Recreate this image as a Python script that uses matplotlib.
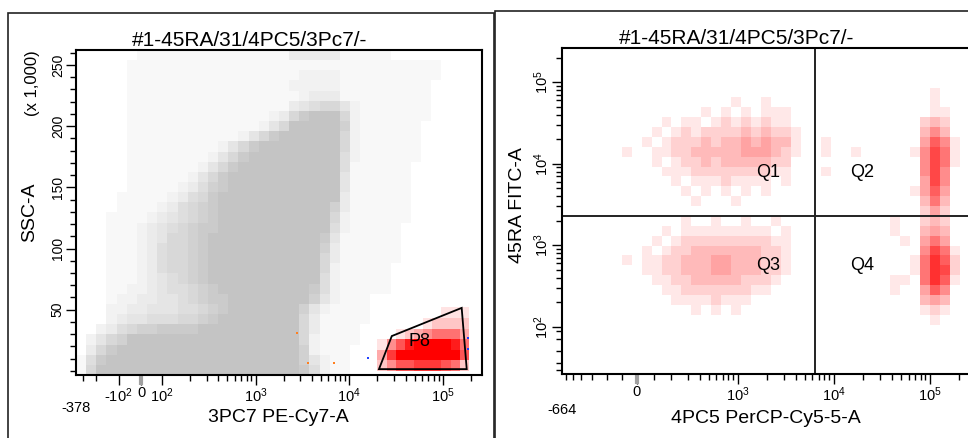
import numpy as np
import matplotlib.pyplot as plt
from matplotlib.patches import Polygon, Rectangle
from matplotlib.ticker import FixedLocator, FixedFormatter, NullFormatter
from matplotlib.colors import ListedColormap

plt.rcParams.update({'font.family': ['Liberation Sans', 'DejaVu Sans'],
                     'mathtext.default': 'regular',
                     'axes.unicode_minus': False})

title = "#1-45RA/31/4PC5/3Pc7/-"

# ---- left plot: SSC-A vs 3PC7 PE-Cy7-A ----
left_xlim = (-378, 262144)
left_ylim = (-3300, 262144)
# event density per cell (0 = empty, 9 = solid), rows top to bottom
ssc_density = [
    "0000001111 1111111111 1333331111 1000000000",
    "0000011111 1111111111 1111111111 1111110000",
    "0000011111 1111111111 1122221111 1111110000",
    "0000011111 1111111111 1222221111 1111100000",
    "0000011111 1111111111 1123331111 1111100000",
    "0000011111 1111111111 1345664211 1111100000",
    "0000011111 1111111112 3689996211 1111100000",
    "0000011111 1111111124 6999997211 1111000000",
    "0000011111 1111112468 9999996211 1111000000",
    "0000011111 1111246899 9999996211 1111000000",
    "0000011111 1112468999 9999995211 1111000000",
    "0000011111 1124689999 9999995111 1110000000",
    "0000011111 1246899999 9999994111 1110000000",
    "0000011111 2357899999 9999994111 1110000000",
    "0000111112 3568999999 9999993111 1110000000",
    "0000111123 5678999999 9999973111 1110000000",
    "0001111234 5678999999 9999962111 1110000000",
    "0001112345 6788999999 9999952111 1100000000",
    "0001112346 6789999999 9999841111 1100000000",
    "0001112356 6789999999 9999731111 1100000000",
    "0001112356 6789999999 9999631111 1100000000",
    "0001112356 6789999999 9999621111 1000000000",
    "0001112345 6789999999 9999521111 1000000000",
    "0001122345 5678999999 9998521111 1000000000",
    "0001223344 5678899999 9997421110 0000000000",
    "0002233444 5567899999 9974211110 0000000000",
    "0002344555 6678999999 9963111110 0000000000",
    "0023567788 8899999999 9963111100 0000000000",
    "0246799999 9999999999 9962111100 0000000000",
    "0368999999 9999999999 9972111000 0000000000",
    "1589999999 9999999999 9974211000 0000000000",
    "1699999999 9999999999 9985211000 0000000000",
]
# P8 gated events (red), over the gate box
p8_xspan = (20000, 190000)
p8_yspan = (0, 52000)
p8_density = [
    "0000000111",
    "0000012222",
    "0012345553",
    "1468999985",
    "3799999996",
    "2466777652",
]
p8_gate_x = [20800, 180000, 159000, 28500]
p8_gate_y = [1500, 1500, 51500, 28500]
p8_label_pos = (57000, 23900)
orange_x = [2780, 3640, 6900]
orange_y = [31300, 6600, 6600]
blue_x = [15900, 186000, 186000]
blue_y = [10700, 27200, 18100]

# ---- right plot: 45RA FITC-A vs 4PC5 PerCP-Cy5-5-A ----
right_xlim = (-664, 262144)
right_ylim = (0, 262144)
q_x = 6370
q_y = 2290
q_labels = ["Q1", "Q2", "Q3", "Q4"]
q_label_x = [2065, 19700, 2065, 19700]
q_label_y = [7780, 7780, 570, 570]
# dots counted per cell, rows top to bottom
fitc_counts = [
    "0000000000 0000000000 0000000000 0000000000 0",
    "0000000000 0000000000 0000000000 0000000000 0",
    "0000000000 0000000000 0000000000 0000000000 0",
    "0000000000 0000000000 0000000000 0000000000 0",
    "0000000000 0000000000 0000000000 0000000100 0",
    "0000000000 0000000100 1000000000 0000000100 0",
    "0000000000 0000101010 1110000000 0000000110 0",
    "0000000000 1011012121 2110000000 0000002320 0",
    "0000000001 0121222232 3221000000 0000003530 0",
    "0000000010 1222323343 4331001000 0000004751 0",
    "0000001001 1223333344 4321001001 0000015861 0",
    "0000000001 0122323333 3220000000 0000005861 0",
    "0000000000 1112222222 2110001000 0000005850 0",
    "0000000000 0101112111 1010000000 0000004850 0",
    "0000000000 0010101010 1000000000 0000014740 0",
    "0000000000 0001000100 0000000000 0000003630 0",
    "0000000000 0000000000 0000000000 0000002420 0",
    "0000000000 0010010010 0100000000 0001002320 0",
    "0000000000 1011111111 1010000000 0001003430 0",
    "0000000001 0122222222 2110000000 0000104640 0",
    "0000000010 1223333333 2210000000 0000005861 0",
    "0000001011 2233344333 2210000000 0000016972 0",
    "0000000011 2233344333 2210000000 0000016982 0",
    "0000000001 1223333322 2100000000 0001106971 0",
    "0000000000 1122222221 1000000000 0001004750 0",
    "0000000000 0111121110 0000000000 0000003430 0",
    "0000000000 0001010100 0000000000 0000001210 0",
    "0000000000 0000000000 0000000000 0000000100 0",
    "0000000000 0000000000 0000000000 0000000000 0",
    "0000000000 0000000000 0000000000 0000000000 0",
    "0000000000 0000000000 0000000000 0000000000 0",
    "0000000000 0000000000 0000000000 0000000000 0",
    "0000000000 0000000000 0000000000 0000000000 0",
]


def biex(lin_top, lin_dec, neg=(1.0, None, None)):
    """Log above lin_top, linear below; the negative side has its own
    (squeeze, lin_top, lin_dec)."""
    k, n_top, n_dec = neg
    n_top = lin_top if n_top is None else n_top
    n_dec = lin_dec if n_dec is None else n_dec

    def half(a, top, dec):
        return np.where(a <= top, a / top * dec,
                        dec + np.log10(np.maximum(a, top) / top))

    def half_inv(b, top, dec):
        return np.where(b <= dec, b / dec * top,
                        top * 10 ** (np.maximum(b, dec) - dec))

    def fwd(x):
        x = np.asarray(x, dtype=float)
        a = np.abs(x)
        return np.where(x < 0, -k * half(a, n_top, n_dec), half(a, lin_top, lin_dec))

    def inv(y):
        y = np.asarray(y, dtype=float)
        pos = half_inv(np.clip(y, 0, 12), lin_top, lin_dec)
        negv = -half_inv(np.clip(-y / k, 0, 12), n_top, n_dec)
        return np.where(y < 0, negv, pos)
    return fwd, inv


def to_grid(rows):
    return np.array([[int(c) for c in r.replace(" ", "")] for r in rows])


def shades(rgb, step):
    rgb = np.array(rgb)
    return ListedColormap([1 - (1 - rgb) * min(1.0, k * step) for k in range(10)])


def draw_density(ax, rows, xspan, yspan, fx, fy, cmap):
    grid = to_grid(rows)
    nr, nc = grid.shape
    xe = fx[1](np.linspace(fx[0](xspan[0]), fx[0](xspan[1]), nc + 1))
    ye = fy[1](np.linspace(fy[0](yspan[1]), fy[0](yspan[0]), nr + 1))
    ax.pcolormesh(xe, ye, np.ma.masked_equal(grid, 0), cmap=cmap,
                  vmin=-0.5, vmax=9.5, shading='flat',
                  antialiased=False, edgecolors='none')


def style_axis(ax, ticks, labels, minor, axis='x'):
    a = ax.xaxis if axis == 'x' else ax.yaxis
    a.set_major_locator(FixedLocator(ticks))
    a.set_major_formatter(FixedFormatter(labels))
    a.set_minor_locator(FixedLocator(minor))
    a.set_minor_formatter(NullFormatter())


def decade_minors(lo, hi):
    return [m * 10 ** e for e in range(lo, hi) for m in range(2, 10)]


lin = lambda v: v
ident = (lin, lin)

fig = plt.figure(figsize=(9.68, 4.38), dpi=100)

# panel frames
fig.add_artist(Rectangle((8 / 968, -0.02), 486 / 968, 1.02 - 13 / 438,
                         transform=fig.transFigure, fill=False, ec='#222222', lw=1.2))
fig.add_artist(Rectangle((495 / 968, -0.02), 0.55, 1.02 - 11 / 438,
                         transform=fig.transFigure, fill=False, ec='#222222', lw=1.2))

# ---------------- left ----------------
ax1 = fig.add_axes([76 / 968, 1 - 375 / 438, 406 / 968, 325 / 438])
fx1 = biex(70, 0.066, neg=(0.79, 53, 0.03))
ax1.set_xscale('function', functions=fx1)
ax1.set_xlim(*left_xlim)
ax1.set_ylim(*left_ylim)

draw_density(ax1, ssc_density, left_xlim, left_ylim, fx1, ident,
             shades((0.77, 0.77, 0.77), 1 / 9))
draw_density(ax1, p8_density, p8_xspan, p8_yspan, fx1, ident,
             shades((1.0, 0.0, 0.0), 1 / 9))
ax1.scatter(orange_x, orange_y, s=3, marker='s', color='#ff8020', lw=0)
ax1.scatter(blue_x, blue_y, s=3, marker='s', color='#2040ff', lw=0)
ax1.add_patch(Polygon(list(zip(p8_gate_x, p8_gate_y)), closed=True,
                      fill=False, ec='black', lw=1.3))
ax1.text(*p8_label_pos, "P8", fontsize=13, ha='center', va='center')

style_axis(ax1, [-100, 0, 100, 1e3, 1e4, 1e5],
           ["-$10^{2}$", "0", "$10^{2}$", "$10^{3}$", "$10^{4}$", "$10^{5}$"],
           [-300, -200] + decade_minors(2, 6)[:-7])
style_axis(ax1, [5e4, 1e5, 1.5e5, 2e5, 2.5e5], ["50", "100", "150", "200", "250"],
           list(np.arange(0, 2.61e5, 1e4)), axis='y')
ax1.text(left_xlim[0], -0.10, "-378", transform=ax1.get_xaxis_transform(),
         ha='center', va='center', fontsize=10.5)
ax1.plot([0, 0], [0, -0.03], transform=ax1.get_xaxis_transform(),
         color='#a0a0a0', lw=3, clip_on=False, solid_capstyle='butt')
ax1.set_xlabel("3PC7 PE-Cy7-A", fontsize=14)
ax1.xaxis.set_label_coords(0.4975, -0.13)
ax1.xaxis.label.set_va('center')
ax1.set_ylabel("SSC-A", fontsize=14)
ax1.yaxis.set_label_coords(-0.113, 0.5)
ax1.yaxis.label.set_va('center')
fig.text(33 / 968, 1 - 83 / 438, "(x 1,000)", rotation=90, ha='center', va='center', fontsize=12)
fig.text(250 / 968, 1 - 40 / 438, title, ha='center', va='center', fontsize=15)

# ---------------- right ----------------
ax2 = fig.add_axes([562 / 968, 1 - 374 / 438, 408 / 968, 326 / 438])
fx2 = biex(200, 0.351, neg=(0.895, None, None))
fy2 = biex(40, 0.18)
ax2.set_xscale('function', functions=fx2)
ax2.set_yscale('function', functions=fy2)
ax2.set_xlim(*right_xlim)
ax2.set_ylim(*right_ylim)

draw_density(ax2, fitc_counts, right_xlim, right_ylim, fx2, fy2,
             shades((1.0, 0.0, 0.0), 0.09))
ax2.axvline(q_x, color='#222222', lw=1.4)
ax2.axhline(q_y, color='#222222', lw=1.4)
for lab, qx, qy in zip(q_labels, q_label_x, q_label_y):
    ax2.text(qx, qy, lab, fontsize=13, ha='center', va='center')

style_axis(ax2, [0, 1e3, 1e4, 1e5], ["0", "$10^{3}$", "$10^{4}$", "$10^{5}$"],
           list(range(-600, 0, 100)) + list(range(100, 1000, 100)) + decade_minors(3, 6)[:-7])
style_axis(ax2, [1e2, 1e3, 1e4, 1e5], ["$10^{2}$", "$10^{3}$", "$10^{4}$", "$10^{5}$"],
           [10, 30, 50, 70, 90] + decade_minors(2, 6)[:-7], axis='y')
ax2.text(right_xlim[0], -0.11, "-664", transform=ax2.get_xaxis_transform(),
         ha='center', va='center', fontsize=10.5)
ax2.plot([0, 0], [0, -0.03], transform=ax2.get_xaxis_transform(),
         color='#a0a0a0', lw=3, clip_on=False, solid_capstyle='butt')
ax2.set_xlabel("4PC5 PerCP-Cy5-5-A", fontsize=14)
ax2.xaxis.set_label_coords((766 - 562) / 408, -0.135)
ax2.xaxis.label.set_va('center')
ax2.set_ylabel("45RA FITC-A", fontsize=14)
ax2.yaxis.set_label_coords((517 - 562) / 408, (374 - 205) / 326)
ax2.yaxis.label.set_va('center')
fig.text(737 / 968, 1 - 38 / 438, title, ha='center', va='center', fontsize=15)

for ax in (ax1, ax2):
    for sp in ax.spines.values():
        sp.set_linewidth(1.5)
    ax.tick_params(which='major', length=7, width=1, pad=1, labelsize=10.5)
    ax.tick_params(which='minor', length=4, width=1)
    ax.tick_params(axis='y', labelrotation=90)
    for lab in ax.get_yticklabels():
        lab.set_va('center')
ax1.tick_params(axis='y', labelsize=10)

fig.savefig("out.png", dpi=100)
